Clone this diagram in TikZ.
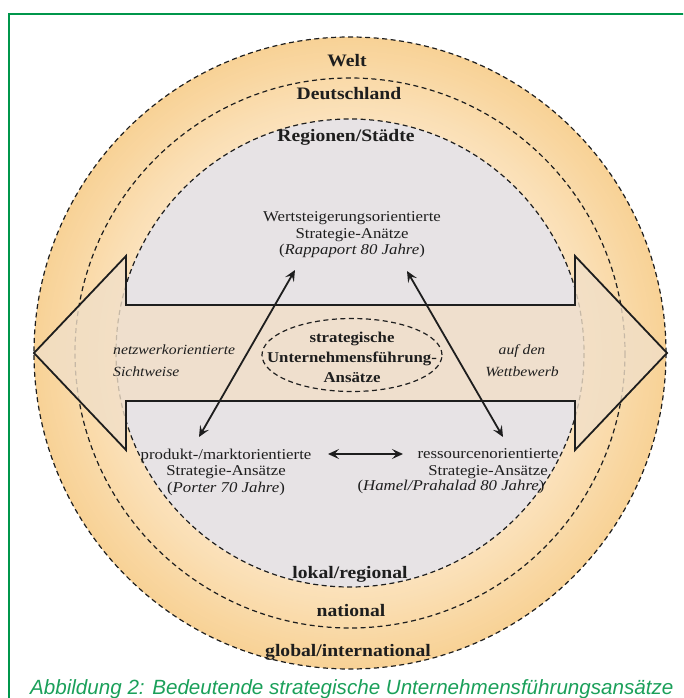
\documentclass[tikz,border=0pt]{standalone}
\usepackage{fontspec}
\setmainfont[FakeStretch=1.12]{Liberation Serif}
\newfontfamily\capfont{Liberation Sans}
\usetikzlibrary{arrows.meta,shapes.geometric}
\definecolor{ringin}{HTML}{FBE2BC}
\definecolor{ringout}{HTML}{F8D296}
\definecolor{innergray}{HTML}{E7E3E5}
\definecolor{arrowfill}{HTML}{F1DFC8}
\definecolor{framegreen}{HTML}{00964B}
\definecolor{capgreen}{HTML}{1BA05A}
\definecolor{ink}{HTML}{1E1E1E}
\begin{document}
\begin{tikzpicture}[x=1pt,y=-1pt,
  ringlabel/.style={font=\bfseries\fontsize{17.5}{20}\selectfont, text=ink, inner sep=0, anchor=base},
  body/.style={font=\fontsize{15}{16.5}\selectfont, align=center, text=ink, inner sep=0},
  corebox/.style={font=\bfseries\fontsize{15}{20}\selectfont, align=center, text=ink, inner sep=0},
  side/.style={font=\itshape\fontsize{14}{22}\selectfont, text=ink, inner sep=0},
  dashline/.style={draw=ink, line width=1.2pt, dash pattern=on 5pt off 3.5pt},
  link/.style={draw=ink, line width=1.8pt, {Stealth[length=11pt,width=10pt,inset=4.5pt]}-{Stealth[length=11pt,width=10pt,inset=4.5pt]}},
  bigarrow/.style={draw=ink, line width=1.8pt, line join=miter, fill=arrowfill, fill opacity=0.8},
]
\useasboundingbox (0,0) rectangle (683,698);
\clip (0,0) rectangle (683,698);
\fill[white] (0,0) rectangle (683,698);
\coordinate (c) at (350,353);
% orange rings with radial gradient
\foreach \r in {316,314,...,234} {
  \pgfmathsetmacro\p{(\r-234)/82*100}
  \fill[ringout!\p!ringin] (c) circle (\r);
}
\fill[innergray] (c) circle (234);
\draw[dashline] (c) circle (316);
\draw[dashline] (c) circle (275);
\draw[dashline] (c) circle (234);
% big double arrow
\draw[bigarrow] (34,353) -- (126,256) -- (126,305) -- (575,305) -- (575,256) -- (667,353)
  -- (575,450) -- (575,401) -- (126,401) -- (126,450) -- cycle;
% ring labels
\node[ringlabel] (welt) at (347,67) {Welt};
\node[ringlabel] (de) at (349,100) {Deutschland};
\node[ringlabel] (reg) at (346,141) {Regionen/Städte};
\node[ringlabel] (lok) at (350,578) {lokal/regional};
\node[ringlabel] (nat) at (351,616) {national};
\node[ringlabel] (glob) at (348,656) {global/international};
% center ellipse
\node[ellipse, dashline, minimum width=180pt, minimum height=73pt, inner sep=0] (ell) at (352,355) {};
\node[corebox] (core) at (352,357) {strategische\\Unternehmensführung-\\Ansätze};
% side texts
\node[side, anchor=west, align=left] (netz) at (113,361) {netzwerkorientierte\\Sichtweise};
\node[side, align=center] (wett) at (522,361) {auf den\\Wettbewerb};
% approaches
\node[body] (wert) at (352,235) {Wertsteigerungsorientierte\\Strategie-Anätze\\(\textit{Rappaport 80 Jahre})};
\node[body] (prod) at (226,472) {produkt-/marktorientierte\\Strategie-Ansätze\\(\textit{Porter 70 Jahre})};
\node[body, anchor=base] (res) at (488,475) {ressourcenorientierte\\Strategie-Ansätze};
\node[body, anchor=base] (resauth) at (451,490) {(\textit{Hamel/Prahalad 80 Jahre})};
% connectors
\coordinate (wl) at (295,270);
\coordinate (pl) at (199,437);
\coordinate (wr) at (407,271);
\coordinate (rr) at (503,437);
\coordinate (hl) at (328,454);
\coordinate (hr) at (403,454);
\draw[link] (wl) -- (pl);
\draw[link] (wr) -- (rr);
\draw[link] (hl) -- (hr);
% frame and caption
\draw[framegreen, line width=2.5pt] (9,760) -- (9,14) -- (760,14);
\node[anchor=base west, inner sep=0, text=capgreen, font=\capfont\itshape\fontsize{20.6}{24}\selectfont] (cap) at (30,694) {Abbildung 2: Bedeutende strategische Unternehmensführungsansätze};
\end{tikzpicture}
\end{document}
